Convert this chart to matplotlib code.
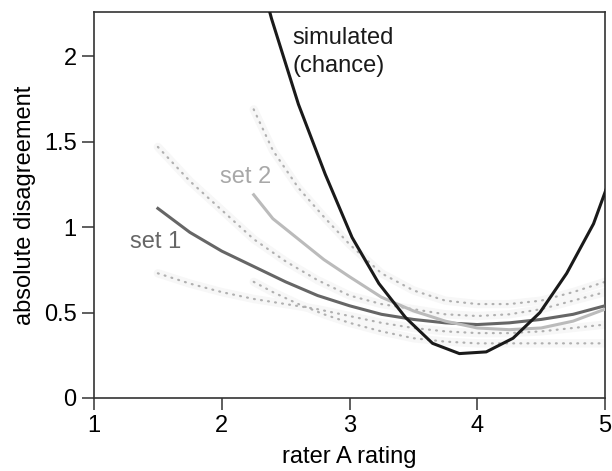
import matplotlib.pyplot as plt

plt.rcParams['font.family'] = ['Liberation Sans', 'DejaVu Sans']

# simulated (chance) curve
sim_x = [2.18, 2.39, 2.60, 2.81, 3.02, 3.23, 3.44, 3.65, 3.86, 4.07, 4.28, 4.49, 4.70, 4.91, 5.12]
sim_y = [2.80, 2.22, 1.72, 1.31, 0.94, 0.67, 0.47, 0.32, 0.26, 0.27, 0.35, 0.50, 0.73, 1.02, 1.45]

# set 1 fit and interval
set1_x = [1.5, 1.75, 2.0, 2.25, 2.5, 2.75, 3.0, 3.25, 3.5, 3.75, 4.0, 4.25, 4.5, 4.75, 5.0]
set1_y = [1.11, 0.97, 0.86, 0.77, 0.68, 0.60, 0.54, 0.49, 0.46, 0.44, 0.43, 0.44, 0.46, 0.49, 0.54]
set1_hi = [1.47, 1.27, 1.10, 0.93, 0.80, 0.69, 0.60, 0.55, 0.52, 0.49, 0.48, 0.49, 0.52, 0.57, 0.62]
set1_lo = [0.73, 0.67, 0.62, 0.58, 0.55, 0.52, 0.48, 0.44, 0.41, 0.39, 0.38, 0.38, 0.39, 0.41, 0.43]

# set 2 fit and interval
set2_x = [2.25, 2.4, 2.6, 2.8, 3.0, 3.25, 3.5, 3.75, 4.0, 4.25, 4.5, 4.75, 5.0]
set2_y = [1.19, 1.05, 0.93, 0.81, 0.71, 0.59, 0.51, 0.45, 0.41, 0.40, 0.41, 0.45, 0.52]
set2_hi = [1.69, 1.45, 1.23, 1.06, 0.90, 0.73, 0.63, 0.57, 0.55, 0.55, 0.57, 0.62, 0.68]
set2_lo = [0.68, 0.62, 0.55, 0.49, 0.44, 0.39, 0.35, 0.33, 0.32, 0.32, 0.32, 0.32, 0.32]

fig = plt.figure(figsize=(6.12, 4.71), dpi=100)
ax = fig.add_axes([0.1536, 0.155, 0.835, 0.8195])

# dotted confidence bands with a faint halo
for xs, ys in [(set1_x, set1_hi), (set1_x, set1_lo), (set2_x, set2_hi), (set2_x, set2_lo)]:
    ax.plot(xs, ys, color='#f7f7f7', lw=6, solid_capstyle='round', zorder=1)
    ax.plot(xs, ys, color='#b0b0b0', lw=1.6, linestyle=(0, (0.4, 2.8)),
            dash_capstyle='round', zorder=2)

ax.plot(set1_x, set1_y, color='#666666', lw=2.2, zorder=3)
ax.plot(set2_x, set2_y, color='#bbbbbb', lw=2.2, zorder=3)
ax.plot(sim_x, sim_y, color='#1a1a1a', lw=2.2, zorder=4)

ax.text(1.28, 0.88, 'set 1', color='#666666', fontsize=17)
ax.text(1.99, 1.26, 'set 2', color='#a8a8a8', fontsize=17)
ax.text(2.55, 2.17, 'simulated\n(chance)', color='#1a1a1a', fontsize=17,
        va='top', linespacing=1.35)

ax.set_xlim(1, 5)
ax.set_ylim(0, 2.26)
ax.set_xticks([1, 2, 3, 4, 5])
ax.set_xticklabels(['1', '2', '3', '4', '5'])
ax.set_yticks([0, 0.5, 1, 1.5, 2])
ax.set_yticklabels(['0', '0.5', '1', '1.5', '2'])
ax.tick_params(direction='out', length=8.5, width=1.1, color='#333333',
               labelsize=17, pad=4)
for s in ax.spines.values():
    s.set_linewidth(1.2)
    s.set_color('#333333')
ax.set_xlabel('rater A rating', fontsize=17, labelpad=6)
ax.set_ylabel('absolute disagreement', fontsize=17, labelpad=6)

fig.savefig('out.png', dpi=100)
